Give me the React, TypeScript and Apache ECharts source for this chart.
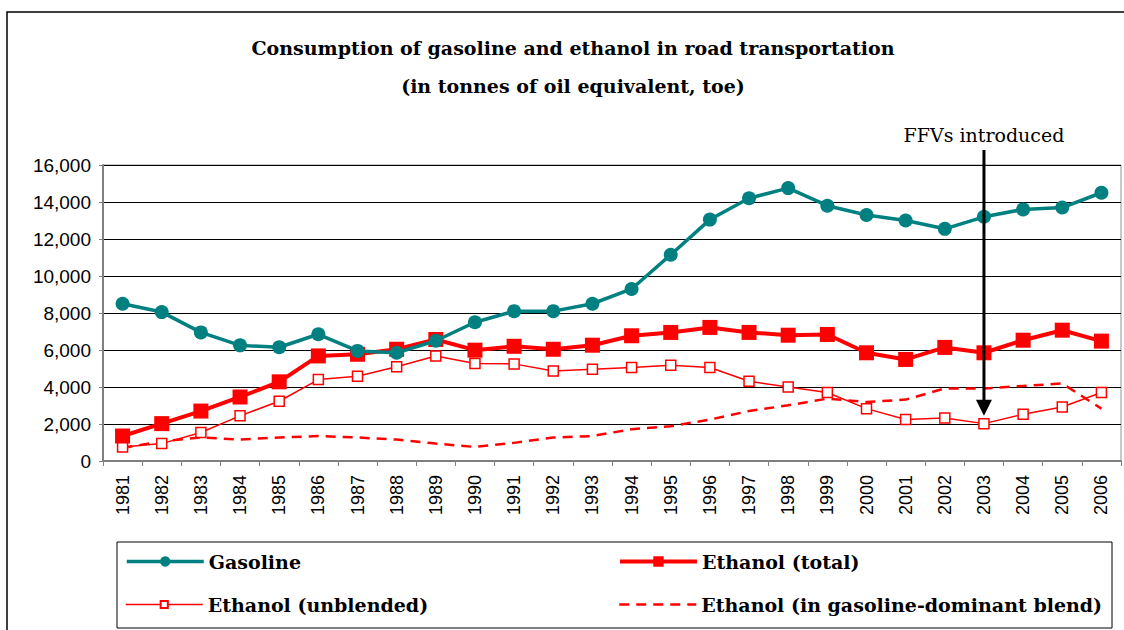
import React, { useEffect, useRef } from "react";
import * as echarts from "echarts";

const years = ["1981","1982","1983","1984","1985","1986","1987","1988","1989","1990","1991","1992","1993","1994","1995","1996","1997","1998","1999","2000","2001","2002","2003","2004","2005","2006"];
const gasoline = [8500, 8050, 6950, 6250, 6150, 6850, 5950, 5850, 6500, 7500, 8100, 8100, 8500, 9300, 11150, 13050, 14200, 14750, 13800, 13300, 13000, 12550, 13200, 13600, 13700, 14500];
const ethanolTotal = [1350, 2020, 2700, 3460, 4280, 5680, 5770, 6040, 6570, 5990, 6200, 6040, 6260, 6770, 6950, 7220, 6950, 6800, 6840, 5850, 5490, 6140, 5850, 6530, 7070, 6480];
const ethanolUnblended = [760, 940, 1540, 2440, 3230, 4400, 4580, 5090, 5680, 5270, 5250, 4870, 4960, 5050, 5180, 5050, 4310, 4000, 3700, 2830, 2240, 2330, 2020, 2530, 2920, 3700];
const ethanolBlend = [700, 1070, 1270, 1160, 1270, 1350, 1270, 1160, 940, 760, 980, 1270, 1350, 1720, 1880, 2240, 2700, 3010, 3370, 3190, 3320, 3920, 3920, 4060, 4190, 2830];
const seriesNames = ["Gasoline", "Ethanol (total)", "Ethanol (unblended)", "Ethanol (in gasoline-dominant blend)"];
const titleLines = ["Consumption of gasoline and ethanol in road transportation", "(in tonnes of oil equivalent, toe)"];
const annotationYear = "2003";
const annotationText = "FFVs introduced";
const arrowTipValue = 2450;

const serif = "'DejaVu Serif', 'Liberation Serif', serif";
const sans = "'Liberation Sans', Arial, sans-serif";

export default function App() {
  const ref = useRef<HTMLDivElement>(null);
  useEffect(() => {
    if (!ref.current) return;
    const chart = echarts.init(ref.current, null, { renderer: "svg" });
    const legendText = { fontFamily: serif, fontWeight: "bold" as const, fontSize: 19, color: "#000" };
    const legendBase = { orient: "horizontal" as const, padding: 0, itemWidth: 77, itemGap: 6, textStyle: legendText, selectedMode: false };
    chart.setOption({
      animation: false,
      backgroundColor: "#fff",
      grid: { left: 103, right: 3, top: 165, bottom: 169, show: true, borderColor: "#909090", borderWidth: 1, containLabel: false },
      legend: [
        { ...legendBase, itemHeight: 13, left: 125, top: 552,
          data: [{ name: seriesNames[0], lineStyle: { width: 3.5 } }] },
        { ...legendBase, itemHeight: 13, left: 618, top: 552,
          data: [{ name: seriesNames[1], lineStyle: { width: 4 } }] },
        { ...legendBase, itemHeight: 9, left: 125, top: 595,
          data: [{ name: seriesNames[2], lineStyle: { width: 1.5 } }] },
        { ...legendBase, itemHeight: 12, left: 618, top: 595,
          data: [{ name: seriesNames[3], lineStyle: { width: 2.5, type: [10, 7] }, itemStyle: { opacity: 0 } }] },
      ],
      xAxis: {
        type: "category",
        data: years,
        boundaryGap: true,
        axisLine: { lineStyle: { color: "#808080", width: 2 } },
        axisTick: { show: true, length: 5, lineStyle: { color: "#808080", width: 1 } },
        axisLabel: { rotate: 90, interval: 0, margin: 14, fontFamily: sans, fontSize: 18, color: "#000" },
      },
      yAxis: {
        type: "value",
        min: 0,
        max: 16000,
        interval: 2000,
        axisLine: { show: true, lineStyle: { color: "#808080", width: 2 } },
        axisTick: { show: true, length: 4, lineStyle: { color: "#808080" } },
        axisLabel: {
          fontFamily: sans, fontSize: 19, color: "#000", margin: 12,
          formatter: (v: number) => v.toLocaleString("en-US"),
        },
        splitLine: { show: true, lineStyle: { color: "#000", width: 1 } },
      },
      series: [
        {
          name: seriesNames[3], type: "line", data: ethanolBlend, symbol: "none", showSymbol: false,
          lineStyle: { color: "#ff0000", width: 2.5, type: [10, 7] }, itemStyle: { color: "#ff0000" }, z: 2,
        },
        {
          name: seriesNames[2], type: "line", data: ethanolUnblended, symbol: "rect", symbolSize: 10,
          lineStyle: { color: "#ff0000", width: 1.5 }, itemStyle: { color: "#fff", borderColor: "#ff0000", borderWidth: 1.5 }, z: 3,
        },
        {
          name: seriesNames[1], type: "line", data: ethanolTotal, symbol: "rect", symbolSize: 15,
          lineStyle: { color: "#ff0000", width: 4 }, itemStyle: { color: "#ff0000" }, z: 4,
        },
        {
          name: seriesNames[0], type: "line", data: gasoline, symbol: "circle", symbolSize: 14,
          lineStyle: { color: "#008080", width: 3.5 }, itemStyle: { color: "#008080" }, z: 5,
        },
      ],
    });
    const ax = chart.convertToPixel({ xAxisIndex: 0 }, annotationYear) as number;
    const tip = chart.convertToPixel({ yAxisIndex: 0 }, arrowTipValue) as number;
    chart.setOption({
      graphic: [
        { type: "rect", shape: { x: 7, y: 12, width: 1130, height: 700 }, style: { fill: "none", stroke: "#000", lineWidth: 1.5 }, silent: true },
        { type: "rect", shape: { x: 117, y: 542, width: 995, height: 86 }, style: { fill: "none", stroke: "#000", lineWidth: 1 }, silent: true },
        { type: "text", x: 573, y: 48, style: { text: titleLines[0], fontFamily: serif, fontWeight: "bold", fontSize: 19, fill: "#000", textAlign: "center", textVerticalAlign: "middle" } },
        { type: "text", x: 573, y: 86, style: { text: titleLines[1], fontFamily: serif, fontWeight: "bold", fontSize: 19, fill: "#000", textAlign: "center", textVerticalAlign: "middle" } },
        { type: "text", x: ax, y: 135, style: { text: annotationText, fontFamily: serif, fontSize: 19, fill: "#000", textAlign: "center", textVerticalAlign: "middle" } },
        { type: "line", shape: { x1: ax, y1: 150, x2: ax, y2: tip - 14 }, style: { stroke: "#000", lineWidth: 3 }, z: 100 },
        { type: "polygon", shape: { points: [[ax - 8, tip - 16], [ax + 8, tip - 16], [ax, tip]] }, style: { fill: "#000" }, z: 100 },
      ],
    });
    return () => chart.dispose();
  }, []);
  return <div ref={ref} style={{ width: 1124, height: 630, position: "absolute", left: 0, top: 0 }} />;
}
